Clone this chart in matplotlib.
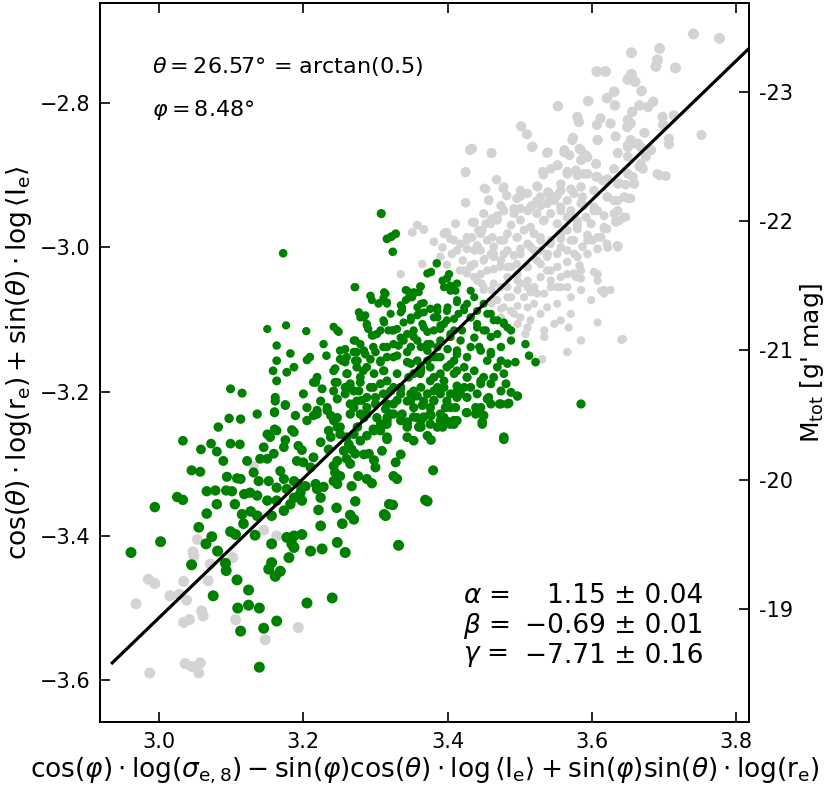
import numpy as np
import matplotlib
matplotlib.use('Agg')
import matplotlib.pyplot as plt

# gray points (outside the selected magnitude range)
gray_x = [3.053, 3.047, 3.048, 3.071, 3.068, 3.034, 3.015, 3.028, 3.038, 2.968, 2.985, 2.994, 3.059, 3.061,
          3.034, 3.042, 3.106, 3.102, 3.163, 3.145, 3.131, 3.147, 3.193, 2.987, 3.036, 3.045, 3.057, 3.055,
          3.358, 3.367, 3.351, 3.381, 3.393, 3.399, 3.409, 3.413, 3.390, 3.365, 3.399, 3.335, 3.417,
          3.425, 3.457, 3.482, 3.496, 3.511, 3.529, 3.538, 3.552, 3.566, 3.575, 3.587, 3.631, 3.645, 3.654,
          3.397, 3.411, 3.434, 3.448, 3.434, 3.460, 3.469, 3.478, 3.492, 3.501, 3.515, 3.524, 3.533, 3.543,
          3.557, 3.571, 3.580, 3.592, 3.603, 3.617, 3.631, 3.638, 3.621, 3.613, 3.601, 3.594,
          3.418, 3.427, 3.441, 3.455, 3.464, 3.473, 3.483, 3.496, 3.506, 3.520, 3.529, 3.543, 3.557, 3.566,
          3.580, 3.575, 3.587, 3.566, 3.552, 3.538, 3.529, 3.515, 3.501, 3.492, 3.478, 3.464, 3.450, 3.437,
          3.423, 3.437, 3.455, 3.473, 3.483, 3.496, 3.511, 3.524, 3.538, 3.552, 3.566, 3.580, 3.594, 3.608,
          3.621, 3.635,
          3.447, 3.461, 3.474, 3.483, 3.469, 3.497, 3.511, 3.520, 3.529, 3.543, 3.557, 3.575, 3.585, 3.603,
          3.608, 3.552, 3.566, 3.534, 3.520, 3.511, 3.497, 3.529, 3.538, 3.552, 3.571, 3.585, 3.599, 3.617,
          3.626, 3.488, 3.474, 3.501, 3.515, 3.534, 3.548, 3.557, 3.568, 3.585, 3.608, 3.643, 3.566, 3.534,
          3.508, 3.511, 3.427, 3.450, 3.461, 3.474, 3.488, 3.497,
          3.741, 3.777, 3.694, 3.655, 3.691, 3.689, 3.716, 3.607, 3.619, 3.655, 3.650, 3.660, 3.669, 3.631,
          3.621, 3.632, 3.595, 3.666, 3.678, 3.685, 3.553, 3.656, 3.650, 3.654, 3.649, 3.698, 3.714, 3.699,
          3.580, 3.582, 3.612, 3.607, 3.626, 3.502, 3.510, 3.517, 3.574, 3.583, 3.608, 3.633, 3.673, 3.661,
          3.650, 3.654, 3.707, 3.707, 3.752, 3.682, 3.668, 3.675, 3.434, 3.461, 3.538, 3.562, 3.569, 3.592,
          3.636, 3.650, 3.666, 3.671, 3.606, 3.585, 3.694, 3.703, 3.553, 3.543, 3.533, 3.524, 3.566, 3.580,
          3.589, 3.606, 3.615, 3.631, 3.638, 3.647, 3.659, 3.657, 3.451, 3.468, 3.477, 3.501, 3.517, 3.524,
          3.541, 3.548, 3.557, 3.585, 3.603, 3.621, 3.645, 3.636, 3.633, 3.617,
          3.641, 3.531, 3.637, 3.431, 3.425, 3.395, 3.404, 3.437, 3.450, 3.443, 3.461, 3.406, 3.421, 3.432,
          3.441, 3.450, 3.467, 3.478, 3.492, 3.427, 3.446, 3.460, 3.474, 3.488, 3.497, 3.511, 3.524,
          3.432, 3.461, 3.518, 3.539, 3.562, 3.573, 3.585, 3.594, 3.606, 3.608, 3.636, 3.650, 3.664, 3.668,
          3.682, 3.425, 3.532, 3.552, 3.566, 3.578, 3.594, 3.608, 3.622, 3.636, 3.650, 3.659, 3.691, 3.453,
          3.478, 3.501, 3.525, 3.539, 3.557, 3.571, 3.585, 3.603, 3.622, 3.636, 3.650, 3.425, 3.457, 3.474,
          3.492, 3.511, 3.529, 3.543, 3.557, 3.571, 3.589, 3.608, 3.636, 3.647, 3.437, 3.453, 3.469, 3.488,
          3.501, 3.515, 3.534, 3.552, 3.566, 3.580, 3.599, 3.617, 3.633, 3.427, 3.446, 3.462, 3.478, 3.497,
          3.511, 3.529, 3.543, 3.557, 3.571, 3.594, 3.608, 3.622, 3.636, 3.437, 3.451, 3.464, 3.483, 3.501,
          3.520, 3.539, 3.557, 3.576, 3.432, 3.446, 3.464, 3.483, 3.497, 3.511, 3.529, 3.543, 3.566, 3.578,
          3.585, 3.608, 3.464, 3.483, 3.501, 3.520, 3.543, 3.557, 3.613, 3.617, 3.571, 3.488, 3.506, 3.515,
          3.583]
gray_y = [-3.405, -3.422, -3.428, -3.439, -3.462, -3.463, -3.483, -3.481, -3.489, -3.494, -3.460, -3.466, -3.504, -3.511,
          -3.520, -3.516, -3.516, -3.430, -3.400, -3.392, -3.303, -3.544, -3.527, -3.590, -3.577, -3.581, -3.576, -3.590,
          -2.969, -2.975, -2.979, -2.992, -3.000, -2.979, -2.990, -3.004, -3.013, -3.023, -3.024, -3.037, -3.032,
          -2.938, -2.934, -2.928, -2.932, -2.925, -2.930, -2.939, -2.928, -2.935, -2.925, -2.930, -2.935, -2.930, -2.932,
          -2.979, -2.967, -2.965, -2.976, -2.986, -2.967, -2.956, -2.949, -2.953, -2.946, -2.944, -2.953, -2.963, -2.953,
          -2.949, -2.956, -2.963, -2.958, -2.949, -2.956, -2.953, -2.963, -2.974, -2.986, -2.990, -2.983,
          -2.995, -3.002, -2.997, -2.990, -2.999, -2.990, -2.981, -2.986, -2.976, -2.981, -2.990, -2.995, -2.988, -2.976,
          -2.974, -2.990, -2.999, -3.004, -3.009, -3.013, -3.004, -2.999, -3.002, -3.011, -3.009, -3.013, -3.018, -3.023,
          -3.032, -3.041, -3.032, -3.027, -3.041, -3.023, -3.027, -3.018, -3.032, -3.027, -3.020, -3.013, -3.009, -3.002,
          -2.995, -2.997,
          -3.050, -3.059, -3.055, -3.069, -3.073, -3.059, -3.046, -3.055, -3.041, -3.046, -3.041, -3.036, -3.043, -3.034,
          -3.046, -3.055, -3.055, -3.064, -3.078, -3.083, -3.081, -3.092, -3.083, -3.078, -3.092, -3.059, -3.073, -3.059,
          -3.059, -3.088, -3.085, -3.097, -3.101, -3.115, -3.106, -3.101, -3.111, -3.129, -3.104, -3.127, -3.145, -3.124,
          -3.120, -3.111, -3.036, -3.059, -3.078, -3.097, -3.115, -3.106,
          -2.704, -2.710, -2.724, -2.730, -2.740, -2.749, -2.751, -2.756, -2.756, -2.760, -2.767, -2.770, -2.783, -2.784,
          -2.793, -2.803, -2.797, -2.803, -2.805, -2.798, -2.804, -2.812, -2.823, -2.828, -2.833, -2.819, -2.817, -2.830,
          -2.819, -2.826, -2.821, -2.830, -2.828, -2.832, -2.843, -2.861, -2.848, -2.863, -2.851, -2.846, -2.841, -2.856,
          -2.858, -2.851, -2.849, -2.857, -2.844, -2.865, -2.861, -2.874, -2.863, -2.869, -2.869, -2.868, -2.872, -2.872,
          -2.869, -2.874, -2.888, -2.891, -2.884, -2.879, -2.900, -2.901, -2.886, -2.891, -2.899, -2.915, -2.898, -2.900,
          -2.898, -2.902, -2.907, -2.891, -2.911, -2.913, -2.911, -2.902, -2.918, -2.906, -2.918, -2.929, -2.942, -2.935,
          -2.925, -2.935, -2.921, -2.939, -2.944, -2.930, -2.958, -2.949, -2.963, -2.972,
          -3.128, -3.155, -2.998, -2.865, -2.896, -2.981, -2.988, -2.965, -2.953, -2.976, -2.960, -3.009, -3.018, -3.027,
          -3.046, -3.055, -3.073, -3.083, -3.092, -2.990, -3.004, -3.009, -3.018, -3.027, -3.046, -3.055, -3.064,
          -2.864, -2.869, -2.860, -2.868, -2.865, -2.851, -2.865, -2.875, -2.884, -2.851, -2.869, -2.861, -2.856, -2.884,
          -2.865, -2.895, -2.895, -2.886, -2.895, -2.893, -2.898, -2.902, -2.905, -2.912, -2.898, -2.912, -2.898, -2.919,
          -2.916, -2.921, -2.916, -2.923, -2.912, -2.919, -2.916, -2.921, -2.930, -2.935, -2.932, -2.938, -2.935, -2.942,
          -2.946, -2.949, -2.942, -2.932, -2.944, -2.949, -2.942, -2.949, -2.949, -2.958, -2.965, -2.967, -2.962, -2.969,
          -2.962, -2.972, -2.962, -2.967, -2.958, -2.969, -2.967, -2.974, -2.965, -2.986, -2.981, -2.986, -2.990, -2.986,
          -2.995, -2.986, -2.990, -2.981, -2.990, -2.990, -2.986, -3.000, -3.000, -3.004, -3.016, -3.009, -3.004, -3.009,
          -3.004, -3.009, -3.000, -3.009, -3.025, -3.037, -3.030, -3.027, -3.037, -3.027, -3.023, -3.032, -3.037, -3.041,
          -3.032, -3.037, -3.050, -3.055, -3.050, -3.055, -3.055, -3.055, -3.060, -3.064, -3.069, -3.069, -3.069, -3.062,
          -3.025]

# green points (selected sample)
green_x = [2.961, 3.002, 2.994, 3.025, 3.033, 3.033, 3.045, 3.057, 3.058, 3.072, 3.080, 3.082, 3.097, 3.113,
           3.136, 3.160, 3.175, 3.161, 3.089, 3.099, 3.112, 3.066, 3.078, 3.093, 3.101, 3.094, 3.108, 3.113,
           3.080, 3.066, 3.105, 3.055, 3.073, 3.065, 3.081, 3.045, 3.092, 3.093, 3.075, 3.108, 3.124, 3.124,
           3.109, 3.139, 3.163, 3.145, 3.113, 3.139, 3.205, 3.240, 3.099, 3.106, 3.133, 3.118, 3.126, 3.136,
           3.115, 3.127, 3.136, 3.117, 3.156, 3.150, 3.163, 3.131, 3.138, 3.152, 3.168, 3.173, 3.122, 3.140,
           3.150, 3.145, 3.159, 3.154, 3.150, 3.163, 3.173, 3.175, 3.187, 3.184, 3.193, 3.198, 3.191, 3.200,
           3.187, 3.193, 3.203, 3.196, 3.177, 3.187, 3.198, 3.182, 3.173, 3.224, 3.226, 3.210, 3.247, 3.258,
           3.254, 3.265, 3.270, 3.272, 3.246, 3.221, 3.224, 3.219, 3.228, 3.217, 3.242, 3.247, 3.251, 3.244,
           3.242, 3.247, 3.267, 3.276, 3.288, 3.295, 3.300, 3.298, 3.291, 3.284, 3.272, 3.235, 3.224, 3.238,
           3.235, 3.247, 3.242, 3.256, 3.263, 3.267, 3.260, 3.265, 3.251, 3.260, 3.270, 3.279, 3.288, 3.297,
           3.307, 3.314, 3.316, 3.312, 3.319, 3.279, 3.288, 3.270, 3.205, 3.214, 3.219, 3.205, 3.233, 3.214,
           3.210, 3.163, 3.177, 3.187, 3.198, 3.184, 3.187, 3.180, 3.156, 3.152, 3.168, 3.161, 3.156,
           3.308, 3.316, 3.322, 3.328, 3.324, 3.172, 3.272, 3.385, 3.372, 3.377, 3.342, 3.353, 3.363, 3.393,
           3.402, 3.395, 3.404, 3.413, 3.314, 3.311, 3.304, 3.316, 3.293, 3.295, 3.337, 3.346, 3.335, 3.363,
           3.367, 3.376, 3.386, 3.277, 3.279, 3.286, 3.288, 3.290, 3.311, 3.318, 3.325, 3.330, 3.339, 3.349,
           3.358, 3.365, 3.372, 3.381, 3.390, 3.399, 3.409, 3.415, 3.297, 3.302, 3.270, 3.279, 3.251, 3.258,
           3.260, 3.254, 3.274, 3.286, 3.297, 3.311, 3.325, 3.339, 3.353, 3.293, 3.307, 3.316, 3.330, 3.344,
           3.363, 3.376, 3.390, 3.404, 3.150, 3.176, 3.204, 3.163, 3.182, 3.163, 3.158, 3.177, 3.187, 3.163,
           3.161, 3.175, 3.160, 3.099, 3.115, 3.209, 3.205, 3.200, 3.228, 3.232, 3.242, 3.249, 3.219, 3.217,
           3.226, 3.242, 3.247, 3.260, 3.265, 3.258, 3.224, 3.233, 3.219, 3.238, 3.272, 3.274, 3.283, 3.279,
           3.270, 3.274, 3.288, 3.297, 3.300, 3.288, 3.311, 3.316, 3.325, 3.335, 3.344, 3.325, 3.337, 3.307,
           3.353, 3.363, 3.372, 3.381, 3.363, 3.376, 3.390, 3.399, 3.409, 3.413, 3.353, 3.367, 3.381, 3.390,
           3.404, 3.409, 3.344, 3.363,
           3.399, 3.404, 3.411, 3.432, 3.437, 3.427, 3.441, 3.450, 3.460, 3.469, 3.478, 3.483, 3.488, 3.474,
           3.460, 3.450, 3.441, 3.432, 3.423, 3.413, 3.399, 3.386, 3.353, 3.342, 3.358, 3.381, 3.395, 3.409,
           3.418, 3.432, 3.446, 3.460, 3.474, 3.483, 3.494, 3.508, 3.513, 3.522, 3.481, 3.464, 3.450, 3.427,
           3.413, 3.386, 3.372, 3.358, 3.344, 3.349, 3.363, 3.395, 3.413, 3.432, 3.446, 3.474, 3.488, 3.497,
           3.585, 3.485, 3.472, 3.478, 3.457, 3.460, 3.446, 3.439, 3.450, 3.448, 3.426, 3.411, 3.409, 3.402,
           3.393, 3.390, 3.377, 3.376, 3.363, 3.353, 3.344, 3.335, 3.325, 3.316, 3.314, 3.377, 3.353, 3.316,
           3.335, 3.328, 3.325, 3.330, 3.309, 3.380, 3.369, 3.372, 3.324, 3.314, 3.332, 3.376, 3.399, 3.418,
           3.413, 3.390, 3.367, 3.349, 3.335,
           3.160, 3.189, 3.214, 3.242, 3.265, 3.311, 3.335, 3.358, 3.381,
           3.271, 3.293, 3.312, 3.316, 3.305, 3.344, 3.351, 3.362, 3.360, 3.335, 3.367, 3.277, 3.284, 3.288,
           3.312, 3.321, 3.337, 3.349, 3.360, 3.376, 3.386, 3.400, 3.413, 3.423, 3.432, 3.441, 3.455, 3.464,
           3.478, 3.247, 3.272, 3.295, 3.307, 3.323, 3.335, 3.353, 3.367, 3.390, 3.404, 3.420, 3.437, 3.453,
           3.469, 3.488, 3.270, 3.284, 3.300, 3.316, 3.332, 3.349, 3.372, 3.386, 3.400, 3.413, 3.427, 3.444,
           3.460, 3.251, 3.258, 3.275, 3.288, 3.307, 3.325, 3.344, 3.358, 3.376, 3.390, 3.404, 3.423, 3.437,
           3.455, 3.469, 3.244, 3.261, 3.279, 3.298, 3.312, 3.330, 3.346, 3.362, 3.381, 3.395, 3.409, 3.427,
           3.446, 3.460, 3.478, 3.244, 3.258, 3.277, 3.293, 3.307, 3.321, 3.335, 3.353, 3.372, 3.386, 3.404,
           3.423, 3.441, 3.247, 3.265, 3.281, 3.300, 3.316, 3.330, 3.349, 3.365, 3.381, 3.397, 3.413, 3.427,
           3.455, 3.474, 3.497, 3.483, 3.247, 3.265, 3.284, 3.302, 3.321, 3.335, 3.358, 3.376, 3.395, 3.404,
           3.427, 3.439, 3.450, 3.251, 3.275, 3.298, 3.316, 3.344, 3.360, 3.386, 3.413, 3.316, 3.344, 3.372,
           3.478, 3.448]
green_y = [-3.423, -3.408, -3.360, -3.346, -3.350, -3.268, -3.309, -3.311, -3.280, -3.272, -3.283, -3.249, -3.237, -3.238,
           -3.231, -3.228, -3.218, -3.213, -3.296, -3.272, -3.273, -3.338, -3.337, -3.337, -3.338, -3.318, -3.320, -3.321,
           -3.356, -3.369, -3.356, -3.388, -3.401, -3.411, -3.421, -3.440, -3.438, -3.448, -3.483, -3.461, -3.475, -3.496,
           -3.500, -3.500, -3.518, -3.528, -3.532, -3.582, -3.493, -3.486, -3.394, -3.398, -3.399, -3.342, -3.340, -3.344,
           -3.370, -3.366, -3.372, -3.383, -3.372, -3.351, -3.351, -3.312, -3.324, -3.324, -3.310, -3.321, -3.296, -3.293,
           -3.293, -3.277, -3.286, -3.263, -3.259, -3.254, -3.277, -3.267, -3.256, -3.253, -3.275, -3.281, -3.296, -3.298,
           -3.324, -3.328, -3.331, -3.340, -3.335, -3.347, -3.351, -3.356, -3.365, -3.386, -3.418, -3.421, -3.409, -3.423,
           -3.383, -3.371, -3.377, -3.352, -3.361, -3.364, -3.347, -3.335, -3.332, -3.328, -3.324, -3.328, -3.317, -3.312,
           -3.303, -3.296, -3.331, -3.317, -3.321, -3.327, -3.305, -3.295, -3.286, -3.287, -3.286, -3.280, -3.270, -3.263,
           -3.254, -3.249, -3.240, -3.282, -3.273, -3.280, -3.293, -3.300, -3.259, -3.263, -3.259, -3.268, -3.261, -3.252,
           -3.254, -3.245, -3.236, -3.370, -3.356, -3.231, -3.222, -3.222, -3.240, -3.233, -3.226, -3.222, -3.226, -3.291,
           -3.305, -3.333, -3.402, -3.400, -3.398, -3.411, -3.416, -3.430, -3.437, -3.446, -3.449, -3.456, -3.411,
           -2.953, -2.988, -2.985, -2.981, -3.006, -3.008, -3.055, -3.022, -3.036, -3.034, -3.059, -3.062, -3.054, -3.046,
           -3.037, -3.055, -3.060, -3.050, -3.064, -3.070, -3.078, -3.076, -3.067, -3.073, -3.083, -3.070, -3.090, -3.078,
           -3.090, -3.085, -3.088, -3.090, -3.097, -3.094, -3.108, -3.113, -3.101, -3.115, -3.115, -3.113, -3.104, -3.101,
           -3.094, -3.106, -3.117, -3.097, -3.108, -3.101, -3.099, -3.092, -3.122, -3.120, -3.129, -3.134, -3.143, -3.141,
           -3.152, -3.157, -3.145, -3.148, -3.138, -3.138, -3.134, -3.129, -3.124, -3.155, -3.159, -3.152, -3.150, -3.145,
           -3.138, -3.134, -3.129, -3.124, -3.113, -3.108, -3.116, -3.136, -3.147, -3.157, -3.171, -3.173, -3.166, -3.185,
           -3.208, -3.219, -3.229, -3.196, -3.202, -3.152, -3.156, -3.203, -3.134, -3.150, -3.110, -3.117, -3.180, -3.187,
           -3.196, -3.171, -3.187, -3.175, -3.194, -3.203, -3.213, -3.222, -3.231, -3.233, -3.157, -3.166, -3.171, -3.187,
           -3.199, -3.213, -3.208, -3.194, -3.217, -3.231, -3.171, -3.185, -3.194, -3.203, -3.213, -3.217, -3.231, -3.245,
           -3.175, -3.166, -3.157, -3.152, -3.194, -3.185, -3.175, -3.166, -3.157, -3.148, -3.222, -3.235, -3.213, -3.231,
           -3.222, -3.240, -3.245, -3.249,
           -3.043, -3.053, -3.060, -3.060, -3.069, -3.078, -3.088, -3.078, -3.092, -3.101, -3.104, -3.111, -3.129, -3.138,
           -3.124, -3.115, -3.111, -3.097, -3.083, -3.073, -3.088, -3.083, -3.064, -3.073, -3.083, -3.115, -3.106, -3.115,
           -3.129, -3.138, -3.143, -3.148, -3.157, -3.161, -3.159, -3.134, -3.150, -3.159, -3.189, -3.180, -3.180, -3.180,
           -3.171, -3.152, -3.143, -3.129, -3.120, -3.161, -3.171, -3.194, -3.199, -3.194, -3.189, -3.199, -3.201, -3.206,
           -3.217, -3.216, -3.217, -3.266, -3.208, -3.217, -3.222, -3.231, -3.233, -3.242, -3.229, -3.222, -3.245, -3.242,
           -3.249, -3.240, -3.233, -3.245, -3.240, -3.235, -3.242, -3.233, -3.231, -3.240, -3.224, -3.267, -3.268, -3.266,
           -3.287, -3.298, -3.317, -3.321, -3.282, -3.309, -3.350, -3.352, -3.357, -3.372, -3.413, -3.222, -3.213, -3.203,
           -3.192, -3.203, -3.213, -3.203, -3.194,
           -3.252, -3.233, -3.187, -3.199, -3.189, -3.203, -3.196, -3.206, -3.199,
           -3.055, -3.067, -3.062, -3.078, -3.077, -3.060, -3.069, -3.054, -3.062, -3.080, -3.077, -3.090, -3.097, -3.106,
           -3.104, -3.092, -3.087, -3.097, -3.092, -3.085, -3.097, -3.083, -3.076, -3.087, -3.097, -3.106, -3.092, -3.101,
           -3.106, -3.115, -3.129, -3.122, -3.115, -3.115, -3.125, -3.115, -3.111, -3.113, -3.120, -3.115, -3.125, -3.115,
           -3.120, -3.115, -3.145, -3.143, -3.145, -3.138, -3.136, -3.138, -3.134, -3.138, -3.141, -3.143, -3.152, -3.138,
           -3.145, -3.155, -3.159, -3.157, -3.166, -3.157, -3.152, -3.159, -3.157, -3.166, -3.152, -3.162, -3.166, -3.171,
           -3.157, -3.166, -3.168, -3.175, -3.180, -3.175, -3.171, -3.175, -3.180, -3.175, -3.180, -3.185, -3.175, -3.180,
           -3.185, -3.189, -3.175, -3.187, -3.194, -3.199, -3.194, -3.189, -3.199, -3.194, -3.199, -3.203, -3.194, -3.203,
           -3.194, -3.203, -3.210, -3.217, -3.212, -3.208, -3.217, -3.212, -3.212, -3.219, -3.212, -3.222, -3.208, -3.208,
           -3.210, -3.217, -3.206, -3.217, -3.236, -3.231, -3.236, -3.236, -3.231, -3.240, -3.236, -3.231, -3.236, -3.245,
           -3.229, -3.222, -3.233, -3.249, -3.249, -3.254, -3.245, -3.249, -3.249, -3.249, -3.240, -3.263, -3.263, -3.261,
           -3.263, -3.245]

# fitted plane (projected line)
line_x = [2.935, 3.818]
line_y = [-3.576, -2.724]

mag_ticks = [-19, -20, -21, -22, -23]


def marker_size(y):
    # dots get bigger away from the gray/green transition
    d = np.clip(8.0 + 9 * np.abs(np.array(y) + 3.08), 8.0, 11.0)
    return (d * 0.72) ** 2


fig = plt.figure(figsize=(8.3, 7.9), dpi=100)
ax = fig.add_axes([100/830, 1 - 722/790, 649/830, 719/790])

ax.scatter(gray_x, gray_y, s=marker_size(gray_y), c='lightgray', edgecolors='none', zorder=2)
ax.scatter(green_x, green_y, s=marker_size(green_y), c='green', edgecolors='none', zorder=3)
ax.plot(line_x, line_y, color='black', lw=2.3, zorder=4)

ax.set_xlim(2.918, 3.818)
ax.set_ylim(-3.658, -2.661)
ax.set_xticks([3.0, 3.2, 3.4, 3.6, 3.8])
ax.set_yticks([-3.6, -3.4, -3.2, -3.0, -2.8])
ax.tick_params(direction='in', top=True, right=False, labelsize=15, length=7, width=1.2, pad=7)
for sp in ax.spines.values():
    sp.set_linewidth(1.4)

ax.set_xlabel(r'$\cos(\varphi)\cdot\log(\sigma_{\mathrm{e,8}}) - \sin(\varphi)\cos(\theta)\cdot\log\langle\mathrm{I_e}\rangle'
              r' + \sin(\varphi)\sin(\theta)\cdot\log(\mathrm{r_e})$', fontsize=19, labelpad=3)
ax.set_ylabel(r'$\cos(\theta)\cdot\log(\mathrm{r_e}) + \sin(\theta)\cdot\log\langle\mathrm{I_e}\rangle$',
              fontsize=19, labelpad=4)

ax2 = ax.twinx()
ax2.set_ylim(-18.124, -23.69)
ax2.set_yticks(mag_ticks)
ax2.set_yticklabels([str(m) for m in mag_ticks])
ax2.tick_params(direction='in', labelsize=15, length=7, width=1.2, pad=7)
ax2.set_ylabel(r"$\mathrm{M_{tot}}$ [g' mag]", fontsize=18, labelpad=4)
for sp in ax2.spines.values():
    sp.set_linewidth(1.4)

ax.text(0.080, 0.911, r'$\theta = 26.57°$ = arctan(0.5)', transform=ax.transAxes, fontsize=16, va='center')
ax.text(0.080, 0.851, r'$\varphi = 8.48°$', transform=ax.transAxes, fontsize=16, va='center')

stat_names = [r'$\alpha$ =', r'$\beta$ =', r'$\gamma$ =']
stat_vals = ['1.15 ± 0.04', '−0.69 ± 0.01', '−7.71 ± 0.16']
for i in range(3):
    yy = 0.175 - i * 0.0415
    ax.text(0.559, yy, stat_names[i], transform=ax.transAxes, fontsize=19, va='center', ha='left')
    ax.text(0.929, yy, stat_vals[i], transform=ax.transAxes, fontsize=19, va='center', ha='right')

fig.savefig('out.png', dpi=100)
